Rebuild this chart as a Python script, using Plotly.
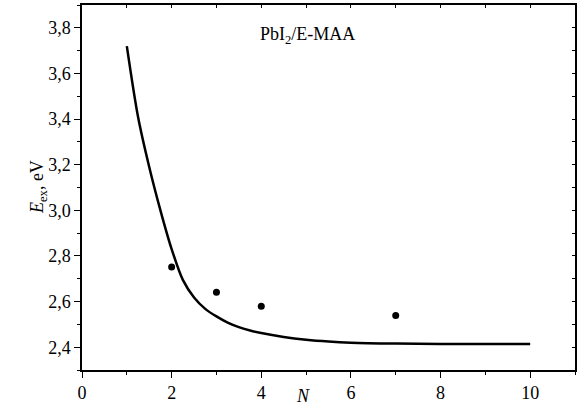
import plotly.graph_objects as go

# Experimental points
n_points = [2, 3, 4, 7]
e_points = [2.751, 2.641, 2.580, 2.539]

# Model curve
n_curve = [1.0, 1.25, 1.5, 1.75, 2.0, 2.25, 2.5, 2.75, 3.0, 3.25, 3.5, 3.75, 4.0, 4.5, 5.0, 5.5, 6.0, 7.0, 8.0, 9.0, 10.0]
e_curve = [3.72, 3.41, 3.19, 3.00, 2.83, 2.695, 2.618, 2.568, 2.535, 2.508, 2.488, 2.473, 2.462, 2.445, 2.433, 2.425, 2.420, 2.416, 2.414, 2.414, 2.414]

x_ticks = [0, 2, 4, 6, 8, 10]
y_ticks = [2.4, 2.6, 2.8, 3.0, 3.2, 3.4, 3.6, 3.8]

FONT = "Liberation Serif, Times New Roman, serif"

fig = go.Figure()
fig.add_trace(go.Scatter(x=n_curve, y=e_curve, mode="lines",
                         line=dict(color="black", width=2.5, shape="spline", smoothing=0.8),
                         showlegend=False, hoverinfo="skip"))
fig.add_trace(go.Scatter(x=n_points, y=e_points, mode="markers",
                         marker=dict(color="black", size=7),
                         showlegend=False))
# dummy trace for mirrored inner-tick axes
fig.add_trace(go.Scatter(x=[None], y=[None], xaxis="x2", yaxis="y2",
                         showlegend=False, hoverinfo="skip"))

common = dict(showgrid=False, zeroline=False, showline=True, linecolor="black",
              linewidth=1.5, tickcolor="black", tickfont=dict(family=FONT, size=18, color="black"))

fig.update_layout(
    width=581, height=419,
    margin=dict(l=82, r=6, t=5, b=49, autoexpand=False),
    plot_bgcolor="white", paper_bgcolor="white",
    separators=",.",
    font=dict(family=FONT, size=18, color="black"),
    xaxis=dict(range=[0, 11], tickvals=x_ticks, ticks="outside", ticklen=6, tickwidth=1.2,
               minor=dict(dtick=1, tick0=0, ticks="outside", ticklen=3, tickcolor="black"),
               **common),
    yaxis=dict(range=[2.3, 3.9], tickvals=y_ticks, ticks="outside", ticklen=6, tickwidth=1.2,
               tickformat=".1f",
               minor=dict(dtick=0.1, tick0=2.3, ticks="outside", ticklen=3, tickcolor="black"),
               **common),
    xaxis2=dict(range=[0, 11], overlaying="x", side="top", showticklabels=False,
                tickvals=[1, 2, 3, 4, 5, 6, 7, 8, 9, 10], ticks="inside", ticklen=3,
                showgrid=False, zeroline=False, showline=True, linecolor="black", linewidth=1.5,
                tickcolor="black"),
    yaxis2=dict(range=[2.3, 3.9], overlaying="y", side="right", showticklabels=False,
                tickvals=[2.4, 2.5, 2.6, 2.7, 2.8, 2.9, 3.0, 3.1, 3.2, 3.3, 3.4, 3.5, 3.6, 3.7, 3.8],
                ticks="inside", ticklen=3,
                showgrid=False, zeroline=False, showline=True, linecolor="black", linewidth=1.5,
                tickcolor="black"),
    annotations=[
        dict(text="PbI<sub>2</sub>/E-MAA", xref="paper", yref="paper", x=0.458, y=0.953,
             showarrow=False, font=dict(family=FONT, size=18)),
        dict(text="<i>N</i>", xref="paper", yref="paper", x=(303 - 82) / 493, y=-0.104,
             showarrow=False, font=dict(family=FONT, size=18)),
        dict(text="<i>E</i><sub>ex</sub>, eV", xref="paper", yref="paper", x=-0.1156, y=0.5,
             textangle=-90, showarrow=False, font=dict(family=FONT, size=18)),
    ],
)

fig.write_html("out.html", config={"displayModeBar": False},
               post_script="document.body.style.margin='0';document.body.style.overflow='hidden';")
